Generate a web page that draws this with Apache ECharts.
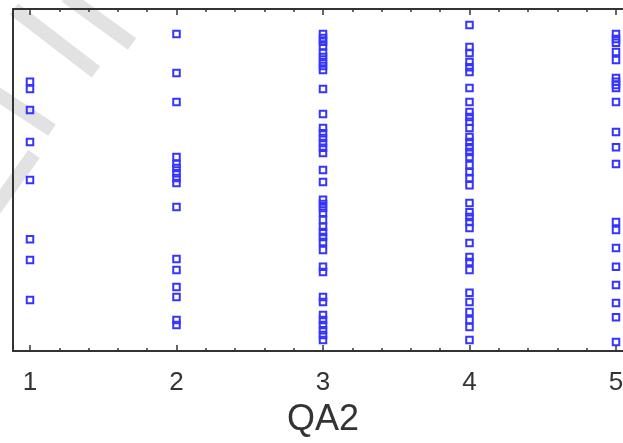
<!DOCTYPE html>
<html>
<head>
<meta charset="utf-8">
<script src="https://cdn.jsdelivr.net/npm/echarts@6/dist/echarts.min.js"></script>
<style>
html,body{margin:0;padding:0;background:#fff;}
#chart{width:623px;height:443px;}
</style>
</head>
<body>
<div id="chart"></div>
<script>
// Category positions on the x axis (QA2 answer values)
const xTickLabels = [1, 2, 3, 4, 5];
const xMinorTicks = [1.2, 1.4, 1.6, 1.8, 2.2, 2.4, 2.6, 2.8, 3.2, 3.4, 3.6, 3.8, 4.2, 4.4, 4.6, 4.8];
// y values (relative scale 0-100, axis unlabeled) read for each QA2 value
const yQA1 = [78.7, 76.6, 70.5, 61.1, 50.0, 32.7, 26.6, 14.9];
const yQA2 = [92.7, 81.3, 72.8, 56.7, 54.7, 53.5, 52.0, 50.6, 49.1, 42.1, 26.9, 23.7, 18.7, 15.8, 9.1, 7.6];
const yQA3 = [92.7, 91.5, 90.4, 89.2, 87.1, 86.0, 84.5, 83.3, 82.2, 76.6, 69.3, 65.2, 63.7, 62.3, 60.8, 59.4, 57.9, 52.9, 49.4, 44.2, 43.0, 41.8, 40.4, 38.3, 36.3, 34.8, 33.3, 31.9, 29.5, 24.6, 23.1, 15.8, 14.3, 10.5, 9.1, 7.6, 6.1, 4.7, 3.2];
const yQA4 = [95.3, 88.9, 87.1, 84.5, 83.0, 81.6, 76.9, 72.8, 69.9, 68.4, 67.0, 65.2, 62.6, 61.1, 59.6, 58.2, 56.7, 54.4, 52.3, 50.6, 48.5, 43.3, 40.6, 39.2, 37.7, 36.0, 31.6, 27.5, 26.0, 23.7, 17.0, 14.3, 11.4, 9.1, 7.0, 3.2];
const yQA5 = [92.7, 91.2, 90.1, 87.4, 85.1, 79.8, 78.7, 77.8, 76.9, 72.8, 64.0, 59.6, 54.7, 37.7, 35.4, 30.1, 24.6, 19.3, 14.0, 9.9, 2.6];
const xName = 'QA2';

const groups = [yQA1, yQA2, yQA3, yQA4, yQA5];
const points = [];
groups.forEach((arr, i) => arr.forEach(v => points.push([xTickLabels[i], v])));

const axisColor = '#333333';
const xMin = 0.884, xMax = 5.116;

function xAx(pos, major, showLabel) {
  return {
    type: 'value', position: pos, min: xMin, max: xMax,
    axisLine: {show: major, onZero: false, lineStyle: {color: axisColor, width: 2}},
    axisTick: {show: true, inside: true, length: major ? 6 : 3,
      customValues: major ? xTickLabels : xMinorTicks,
      lineStyle: {color: axisColor, width: 1.5}},
    axisLabel: {show: showLabel, customValues: xTickLabels, margin: 19,
      fontFamily: 'Liberation Sans, Arial, sans-serif', fontSize: 26, color: '#333'},
    splitLine: {show: false},
    name: showLabel ? xName : '', nameLocation: 'middle', nameGap: 51,
    nameTextStyle: {fontFamily: 'Liberation Sans, Arial, sans-serif', fontSize: 36, color: '#333'}
  };
}

const wm = {stroke: '#e2e2e2', lineWidth: 14, lineCap: 'butt'};
const chart = echarts.init(document.getElementById('chart'), null, {renderer: 'canvas'});
chart.setOption({
  animation: false,
  backgroundColor: '#fff',
  graphic: [
    {type: 'line', z: -10, shape: {x1: 14, y1: 9, x2: 96, y2: 72}, style: wm},
    {type: 'line', z: -10, shape: {x1: 66, y1: -4, x2: 132, y2: 44}, style: wm},
    {type: 'line', z: -10, shape: {x1: -6, y1: 92, x2: 52, y2: 130}, style: wm},
    {type: 'line', z: -10, shape: {x1: 34, y1: 154, x2: -6, y2: 210}, style: wm}
  ],
  grid: {left: 13, top: 9, width: 620, height: 342, containLabel: false, outerBoundsMode: 'none'},
  xAxis: [
    xAx('bottom', true, true),
    xAx('bottom', false, false),
    xAx('top', true, false),
    xAx('top', false, false)
  ],
  yAxis: {
    type: 'value', min: 0, max: 100,
    axisLine: {show: true, onZero: false, lineStyle: {color: axisColor, width: 2}},
    axisTick: {show: false}, axisLabel: {show: false}, splitLine: {show: false}
  },
  series: [{
    type: 'scatter', xAxisIndex: 0, data: points,
    symbol: 'rect', symbolSize: 6.5,
    itemStyle: {color: 'rgba(0,0,0,0)', borderColor: '#3535ff', borderWidth: 2, opacity: 1}
  }]
});
</script>
</body>
</html>
